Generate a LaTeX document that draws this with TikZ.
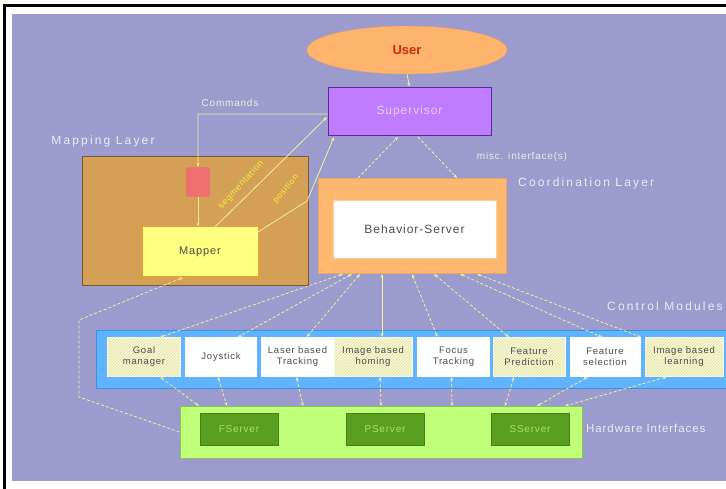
\documentclass[tikz,border=0pt]{standalone}
\usepackage{fontspec}
\setmainfont{Liberation Sans}
\newfontfamily\lbl{Liberation Sans}[LetterSpace=8]
\newfontfamily\lyr{Liberation Sans}[LetterSpace=18]
\usetikzlibrary{shapes.geometric,arrows.meta,patterns}
\definecolor{bgc}{HTML}{9B9BCD}
\definecolor{userc}{HTML}{FFB46E}
\definecolor{usertxt}{HTML}{D02810}
\definecolor{supc}{HTML}{C07CFF}
\definecolor{supb}{HTML}{5A2A9A}
\definecolor{suptxt}{HTML}{E4D0FF}
\definecolor{mapc}{HTML}{D4A055}
\definecolor{mapb}{HTML}{7A5A30}
\definecolor{cylc}{HTML}{F07070}
\definecolor{mapperc}{HTML}{FFFF80}
\definecolor{mapperb}{HTML}{F0A030}
\definecolor{coordc}{HTML}{FFB870}
\definecolor{ctrlc}{HTML}{60B4FF}
\definecolor{ctrlb}{HTML}{4090E0}
\definecolor{hatchc}{HTML}{F8F8D8}
\definecolor{hatchl}{HTML}{E0E0A0}
\definecolor{hwc}{HTML}{C0FF78}
\definecolor{hwb}{HTML}{90C060}
\definecolor{srvc}{HTML}{5A9E20}
\definecolor{srvtxt}{HTML}{A8E070}
\definecolor{linec}{HTML}{F0F0A0}
\definecolor{labc}{HTML}{ECECF4}
\definecolor{seglab}{HTML}{F0F040}
\tikzset{
  layerlab/.style={font=\lyr\fontsize{12}{13}\selectfont, text=labc, inner sep=0pt},
  modbox/.style={rectangle, draw=white, line width=0.6pt, fill=white, minimum width=#1, minimum height=39pt, inner sep=1pt, align=center, font=\lbl\fontsize{9.5}{11}\selectfont, text=black!70},
  hatched/.style={fill=hatchc, postaction={pattern=north east lines, pattern color=hatchl}},
  srv/.style={rectangle, fill=srvc, draw=srvc!80!black, minimum width=78pt, minimum height=32pt, font=\lbl\fontsize{10}{12}\selectfont, text=srvtxt},
  conn/.style={draw=linec, line width=0.8pt},
  dconn/.style={draw=linec, line width=0.8pt, dash pattern=on 3pt off 2pt},
  tip/.style={-{Stealth[length=4pt,width=3pt]}},
  btip/.style={{Stealth[length=4pt,width=3pt]}-{Stealth[length=4pt,width=3pt]}}
}
\begin{document}
\begin{tikzpicture}[x=1pt,y=-1pt]
\useasboundingbox (0,0) rectangle (726,489);
\fill[white] (0,0) rectangle (726,489);
\fill[bgc] (12,14) rectangle (726,481);
\draw[black, line width=3pt] (726,5.5) -- (4.5,5.5) -- (4.5,489);

% user and supervisor
\node[ellipse, fill=userc, draw=userc!90!black, minimum width=200pt, minimum height=48pt, font=\bfseries\fontsize{13}{14}\selectfont, text=usertxt] (user) at (407,50) {User};
\node[rectangle, fill=supc, draw=supb, line width=0.8pt, minimum width=163pt, minimum height=48pt, font=\lbl\fontsize{12}{13}\selectfont, text=suptxt] (sup) at (409.5,111) {Supervisor};

% mapping layer
\node[rectangle, fill=mapc, draw=mapb, line width=0.8pt, minimum width=226pt, minimum height=129pt] (maplayer) at (195,220.5) {};
\node[layerlab] (maplab) at (103,141) {Mapping Layer};
\node[cylinder, shape border rotate=90, fill=cylc, draw=none, minimum width=24pt, minimum height=30pt, aspect=0.3] (cyl) at (198,183) {};
\node[rectangle, fill=mapperc, draw=mapperb, line width=1pt, minimum width=116pt, minimum height=50pt, font=\lbl\fontsize{11}{12}\selectfont, text=black!70] (mapper) at (200,252) {Mapper};

% coordination layer
\node[rectangle, fill=coordc, draw=coordc!90!black, minimum width=188pt, minimum height=95pt] (coord) at (412,225.5) {};
\node[rectangle, fill=white, draw=coordc!70!white, minimum width=163pt, minimum height=58pt, font=\lbl\fontsize{12}{13}\selectfont, text=black!70] (bs) at (414.5,229) {Behavior-Server};
\node[layerlab, anchor=west] (coordlab) at (518,183) {Coordination Layer};

% control modules
\node[rectangle, fill=ctrlc, draw=ctrlb, line width=1pt, minimum width=640pt, minimum height=58pt] (ctrl) at (416,359) {};
\node[layerlab, anchor=west] (ctrllab) at (607,306) {Control Modules};
\node[modbox=73pt, hatched] (m1) at (144,357) {Goal\\manager};
\node[modbox=71pt] (m2) at (221,357) {Joystick};
\node[modbox=72pt] (m3) at (297.5,357) {Laser based\\Tracking};
\node[modbox=78pt, hatched] (m4) at (373,357) {Image based\\homing};
\node[modbox=72pt] (m5) at (453.5,357) {Focus\\Tracking};
\node[modbox=72pt, hatched] (m6) at (529,357) {Feature\\Prediction};
\node[modbox=70pt] (m7) at (605,357) {Feature\\selection};
\node[modbox=78pt, hatched] (m8) at (684,357) {Image based\\learning};

% hardware interfaces
\node[rectangle, fill=hwc, draw=hwb, line width=0.8pt, minimum width=402pt, minimum height=52pt] (hw) at (381,432) {};
\node[font=\lbl\fontsize{11.5}{13}\selectfont, text=labc, inner sep=0pt, anchor=west] (hwlab) at (586,428) {Hardware Interfaces};
\node[srv] (s1) at (239,429) {FServer};
\node[srv] (s2) at (385,429) {PServer};
\node[srv] (s3) at (530,429) {SServer};

% connectors
\draw[conn, tip] (user.south) -- (sup.north);
\coordinate (c1) at (198,114);
\draw[conn, tip] (sup.west |- c1) -- (c1) -- (cyl.north);
\node[font=\lbl\fontsize{10}{11}\selectfont, text=labc!80!linec] (cmdlab) at (230,103) {Commands};
\draw[conn, tip] (cyl.south) -- (mapper.north -| cyl.south);
\coordinate (segs) at (215,227);
\coordinate (sege) at (327,117);
\draw[conn, tip] (segs) -- (sege);
\node[font=\lbl\fontsize{9}{10}\selectfont, text=seglab, rotate=47] (seglabel) at (241,185) {segmentation};
\coordinate (poss) at (258,232);
\coordinate (posm) at (307,201);
\coordinate (pose) at (334,137);
\draw[conn, tip] (poss) -- (posm) -- (pose);
\node[font=\lbl\fontsize{8.5}{10}\selectfont, text=seglab, rotate=50] (poslabel) at (286,189) {position};

\coordinate (sd1) at (398,137);
\coordinate (cd1) at (358,178);
\coordinate (sd2) at (418,137);
\coordinate (cd2) at (457,178);
\draw[dconn, tip] (cd1) -- (sd1);
\draw[dconn, tip] (sd2) -- (cd2);
\node[font=\lbl\fontsize{10}{11}\selectfont, text=labc!70!linec] (misclab) at (522,157) {misc. interface(s)};

% coordination -> modules
\foreach \sx/\m/\dx in {343/m1/16, 352/m2/17, 360/m3/9, 412/m5/-16, 434/m6/-20, 460/m7/-3, 477/m8/-43}{
  \draw[dconn, btip] (\sx,274) -- ([xshift=\dx pt]\m.north);
}
\draw[conn, btip] (382,274) -- ([xshift=9pt]m4.north);

% modules -> hardware
\foreach \m/\dx/\hx in {m1/16/199, m2/-3/227, m3/-1/303, m4/7/381, m5/-2/452, m6/-15/505, m7/-17/537, m8/-17/565}{
  \draw[dconn, btip] ([xshift=\dx pt]\m.south) -- (\hx,406);
}

% loop hardware -> mapper
\coordinate (l1) at (79,397);
\coordinate (l2) at (79,320);
\draw[dconn, tip] (hw.west) -- (l1) -- (l2) -- ([xshift=-17pt]mapper.south);
\end{tikzpicture}
\end{document}
